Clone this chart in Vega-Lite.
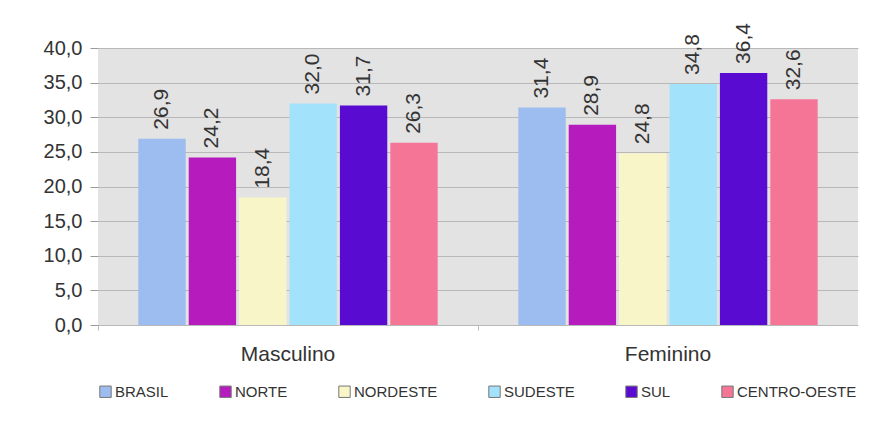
{
  "$schema": "https://vega.github.io/schema/vega-lite/v6.json",
  "width": 760,
  "height": 277,
  "autosize": {"type": "none"},
  "padding": {"left": 98, "top": 48, "right": 11, "bottom": 116},
  "background": "#ffffff",
  "config": {
    "locale": {"number": {"decimal": ",", "thousands": ".", "grouping": [3], "currency": ["R$", ""]}},
    "view": {"fill": "#e3e3e3", "stroke": null},
    "font": "Liberation Sans"
  },
  "data": {
    "values": [
      {"sexo": "Masculino", "regiao": "BRASIL", "valor": 26.9},
      {"sexo": "Masculino", "regiao": "NORTE", "valor": 24.2},
      {"sexo": "Masculino", "regiao": "NORDESTE", "valor": 18.4},
      {"sexo": "Masculino", "regiao": "SUDESTE", "valor": 32.0},
      {"sexo": "Masculino", "regiao": "SUL", "valor": 31.7},
      {"sexo": "Masculino", "regiao": "CENTRO-OESTE", "valor": 26.3},
      {"sexo": "Feminino", "regiao": "BRASIL", "valor": 31.4},
      {"sexo": "Feminino", "regiao": "NORTE", "valor": 28.9},
      {"sexo": "Feminino", "regiao": "NORDESTE", "valor": 24.8},
      {"sexo": "Feminino", "regiao": "SUDESTE", "valor": 34.8},
      {"sexo": "Feminino", "regiao": "SUL", "valor": 36.4},
      {"sexo": "Feminino", "regiao": "CENTRO-OESTE", "valor": 32.6}
    ]
  },
  "encoding": {
    "x": {
      "field": "sexo", "type": "nominal", "sort": ["Masculino", "Feminino"],
      "scale": {"paddingInner": 0, "paddingOuter": 0},
      "axis": {"title": null, "labelAngle": 0, "labelFontSize": 21, "labelColor": "#333333", "labelPadding": 13,
               "bandPosition": 0, "ticks": true, "tickSize": 5, "tickColor": "#bbbbbb", "domain": false}
    },
    "xOffset": {
      "field": "regiao", "type": "nominal",
      "sort": ["BRASIL", "NORTE", "NORDESTE", "SUDESTE", "SUL", "CENTRO-OESTE"],
      "scale": {"paddingInner": 0.06, "paddingOuter": 0.8}
    },
    "y": {
      "field": "valor", "type": "quantitative",
      "scale": {"domain": [0, 40], "nice": false},
      "axis": {"title": null, "values": [0, 5, 10, 15, 20, 25, 30, 35, 40], "format": ".1f",
               "labelFontSize": 20, "labelColor": "#333333", "labelPadding": 8,
               "tickSize": 8, "tickColor": "#999999", "domain": false,
               "grid": true, "gridColor": "#b8b8b8", "gridWidth": 1}
    }
  },
  "layer": [
    {
      "mark": {"type": "bar"},
      "encoding": {
        "color": {
          "field": "regiao", "type": "nominal",
          "sort": ["BRASIL", "NORTE", "NORDESTE", "SUDESTE", "SUL", "CENTRO-OESTE"],
          "scale": {
            "domain": ["BRASIL", "NORTE", "NORDESTE", "SUDESTE", "SUL", "CENTRO-OESTE"],
            "range": ["#9dbdf0", "#b61bbd", "#f8f6c9", "#a2e2fa", "#5a0bd2", "#f57597"]
          },
          "legend": {
            "orient": "bottom", "direction": "horizontal", "title": null,
            "symbolType": "square", "symbolSize": 130, "symbolStrokeColor": "#777777", "symbolStrokeWidth": 1,
            "labelFontSize": 15, "labelColor": "#333333", "labelOffset": 2, "columnPadding": 48, "offset": 20
          }
        }
      }
    },
    {
      "mark": {"type": "text", "angle": 270, "align": "left", "baseline": "middle", "dx": 9, "fontSize": 21, "color": "#333333"},
      "encoding": {
        "text": {"field": "valor", "type": "quantitative", "format": ".1f"}
      }
    }
  ]
}
